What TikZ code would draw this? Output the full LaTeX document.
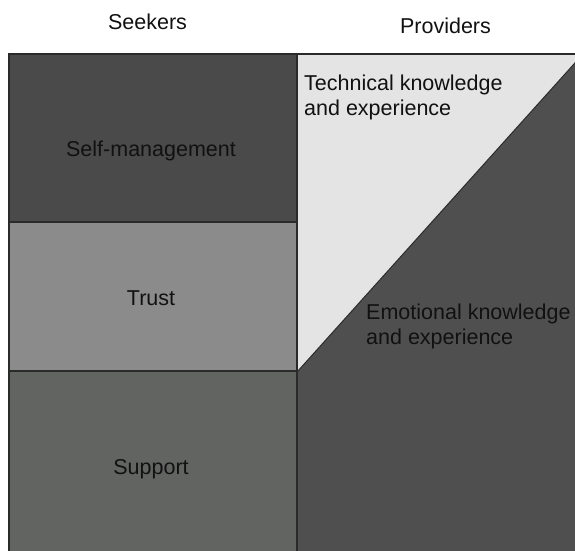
\documentclass[tikz,border=0pt]{standalone}
\usepackage{fontspec}
\setmainfont{Liberation Sans}
\definecolor{cSelf}{HTML}{4A4A4A}
\definecolor{cTrust}{HTML}{8B8B8B}
\definecolor{cSupport}{HTML}{626462}
\definecolor{cDark}{HTML}{4F4F4F}
\definecolor{cLight}{HTML}{E3E4E3}
\definecolor{cEdge}{HTML}{2A2A2A}
\definecolor{cText}{HTML}{111111}
\tikzset{
  edge/.style={draw=cEdge, line width=1.5pt},
  lbl/.style={text=cText, inner sep=0pt, font=\fontsize{21.5}{25}\selectfont},
}
\begin{document}
\begin{tikzpicture}[x=1pt,y=-1pt]
\useasboundingbox (0,0) rectangle (575,550);
\clip (0,0) rectangle (575,550);
% regions
\fill[cSelf] (9,54) rectangle (297,222);
\fill[cTrust] (9,222) rectangle (297,371);
\fill[cSupport] (9,371) rectangle (297,560);
\fill[cDark] (297,54) rectangle (600,560);
\fill[cLight] (297,54) -- (583,54) -- (297,372) -- cycle;
% edges
\draw[edge] (9,560) -- (9,54) -- (600,54);
\draw[edge] (297,54) -- (297,560);
\draw[edge] (9,222) -- (297,222);
\draw[edge] (9,371) -- (297,371);
\draw[draw=cEdge, line width=1pt] (297,372) -- (583,54);
% labels
\node[lbl, anchor=base] (seekers) at (147.5,29) {Seekers};
\node[lbl, anchor=base] (providers) at (445.5,33) {Providers};
\node[lbl, anchor=base] (self) at (151,156) {Self-management};
\node[lbl, anchor=base] (trust) at (151,305) {Trust};
\node[lbl, anchor=base] (support) at (151,474) {Support};
\node[lbl, anchor=north west, align=left] (tech) at (304,74.6) {Technical knowledge\\and experience};
\node[lbl, anchor=north west, align=left] (emo) at (366,303.6) {Emotional knowledge\\and experience};
\end{tikzpicture}
\end{document}
